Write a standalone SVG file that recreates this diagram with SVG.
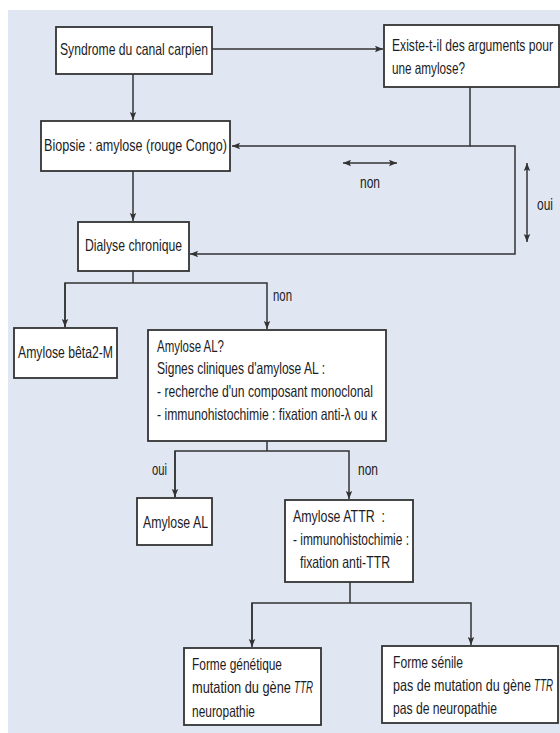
<svg xmlns="http://www.w3.org/2000/svg" width="560" height="733" viewBox="0 0 560 733">
<style>
.box{fill:#fff;stroke:#333;stroke-width:1.8}
.t{font-family:"Liberation Sans",Arial,sans-serif;font-size:16.5px;fill:#1c1c24;white-space:pre}
.i{font-style:italic}
.c{fill:none;stroke:#333;stroke-width:1.5}
</style>
<defs>
<marker id="ah" viewBox="0 0 8 8" refX="8" refY="4" markerWidth="8" markerHeight="8" markerUnits="userSpaceOnUse" orient="auto-start-reverse">
<path d="M0,0.8 L8,4 L0,7.2 L1.5,4 Z" fill="#333"/>
</marker>
</defs>
<rect x="0" y="0" width="560" height="733" fill="#fff"/>
<rect x="8" y="10" width="552" height="723" fill="#e1e6f3"/>
<g id="connectors">
<path class="c" d="M133,74 V120" marker-end="url(#ah)"/>
<path class="c" d="M212,49 H383" marker-end="url(#ah)"/>
<path class="c" d="M470,87 V146 H232" marker-end="url(#ah)"/>
<path class="c" d="M470,146 H515 V254 H190" marker-end="url(#ah)"/>
<path class="c" d="M343,163 H397" marker-start="url(#ah)" marker-end="url(#ah)"/>
<path class="c" d="M527,163 V242" marker-start="url(#ah)" marker-end="url(#ah)"/>
<path class="c" d="M133,171 V221" marker-end="url(#ah)"/>
<path class="c" d="M133,271 V283"/>
<path class="c" d="M65,327 V283 H267 V329" marker-end="url(#ah)"/>
<path class="c" d="M65,283 V327" marker-end="url(#ah)"/>
<path class="c" d="M267,441 V451"/>
<path class="c" d="M175,497 V451 H349 V499" marker-end="url(#ah)"/>
<path class="c" d="M175,451 V497" marker-end="url(#ah)"/>
<path class="c" d="M350,582 V603"/>
<path class="c" d="M252,646 V603 H471 V645" marker-end="url(#ah)"/>
<path class="c" d="M252,603 V647" marker-end="url(#ah)"/>
<text class="t" x="360" y="188" textLength="20" lengthAdjust="spacingAndGlyphs">non</text>
<text class="t" x="537" y="210" textLength="16" lengthAdjust="spacingAndGlyphs">oui</text>
<text class="t" x="273" y="301" textLength="19" lengthAdjust="spacingAndGlyphs">non</text>
<text class="t" x="152" y="475" textLength="15" lengthAdjust="spacingAndGlyphs">oui</text>
<text class="t" x="358" y="475" textLength="20" lengthAdjust="spacingAndGlyphs">non</text>
</g>
<g id="n1"><rect class="box" x="56" y="27" width="156" height="47"/><text class="t" x="60" y="55" textLength="148" lengthAdjust="spacingAndGlyphs">Syndrome du canal carpien</text></g>
<g id="n2"><rect class="box" x="384" y="25" width="175" height="62"/><text class="t" x="392" y="51" textLength="161" lengthAdjust="spacingAndGlyphs">Existe-t-il des arguments pour</text><text class="t" x="392" y="74" textLength="73" lengthAdjust="spacingAndGlyphs">une amylose?</text></g>
<g id="n3"><rect class="box" x="41" y="121" width="189" height="50"/><text class="t" x="44" y="151" textLength="183" lengthAdjust="spacingAndGlyphs">Biopsie : amylose (rouge Congo)</text></g>
<g id="n4"><rect class="box" x="78" y="222" width="111" height="49"/><text class="t" x="85" y="251" textLength="97" lengthAdjust="spacingAndGlyphs">Dialyse chronique</text></g>
<g id="n5"><rect class="box" x="14" y="328" width="103" height="50"/><text class="t" x="18" y="358" textLength="95" lengthAdjust="spacingAndGlyphs">Amylose bêta2-M</text></g>
<g id="n6"><rect class="box" x="148" y="330" width="238" height="111"/>
<text class="t" x="157" y="352" textLength="67" lengthAdjust="spacingAndGlyphs">Amylose AL?</text>
<text class="t" x="157" y="374" textLength="168" lengthAdjust="spacingAndGlyphs">Signes cliniques d'amylose AL :</text>
<text class="t" x="157" y="397" textLength="216" lengthAdjust="spacingAndGlyphs">- recherche d'un composant monoclonal</text>
<text class="t" x="157" y="420" textLength="220" lengthAdjust="spacingAndGlyphs">- immunohistochimie : fixation anti-λ ou κ</text></g>
<g id="n7"><rect class="box" x="137" y="498" width="75" height="47"/><text class="t" x="143" y="528" textLength="65" lengthAdjust="spacingAndGlyphs">Amylose AL</text></g>
<g id="n8"><rect class="box" x="285" y="500" width="128" height="82"/>
<text class="t" x="293" y="522" textLength="92" lengthAdjust="spacingAndGlyphs">Amylose ATTR  :</text>
<text class="t" x="293" y="545" textLength="116" lengthAdjust="spacingAndGlyphs">- immunohistochimie :</text>
<text class="t" x="300" y="568" textLength="90" lengthAdjust="spacingAndGlyphs">fixation anti-TTR</text></g>
<g id="n9"><rect class="box" x="184" y="648" width="137" height="77"/>
<text class="t" x="192" y="670" textLength="90" lengthAdjust="spacingAndGlyphs">Forme génétique</text>
<text class="t" x="192" y="693" textLength="99" lengthAdjust="spacingAndGlyphs">mutation du gène</text>
<text class="t i" x="294" y="693" textLength="19" lengthAdjust="spacingAndGlyphs">TTR</text>
<text class="t" x="192" y="717" textLength="63" lengthAdjust="spacingAndGlyphs">neuropathie</text></g>
<g id="n10"><rect class="box" x="382" y="646" width="176" height="77"/>
<text class="t" x="393" y="668" textLength="70" lengthAdjust="spacingAndGlyphs">Forme sénile</text>
<text class="t" x="393" y="691" textLength="138" lengthAdjust="spacingAndGlyphs">pas de mutation du gène</text>
<text class="t i" x="534" y="691" textLength="19" lengthAdjust="spacingAndGlyphs">TTR</text>
<text class="t" x="393" y="714" textLength="104" lengthAdjust="spacingAndGlyphs">pas de neuropathie</text></g>
</svg>
